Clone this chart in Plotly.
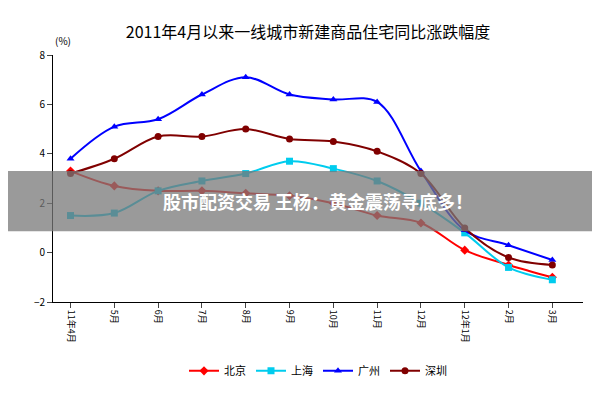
import plotly.graph_objects as go

months = ["11年4月","5月","6月","7月","8月","9月","10月","11月","12月","12年1月","2月","3月"]
beijing = [3.3, 2.7, 2.5, 2.5, 2.4, 2.3, 2.0, 1.5, 1.2, 0.1, -0.5, -1.0]
shanghai = [1.5, 1.6, 2.5, 2.9, 3.2, 3.7, 3.4, 2.9, 2.0, 0.8, -0.6, -1.1]
guangzhou = [3.8, 5.1, 5.4, 6.4, 7.1, 6.4, 6.2, 6.1, 3.3, 0.9, 0.3, -0.3]
shenzhen = [3.2, 3.8, 4.7, 4.7, 5.0, 4.6, 4.5, 4.1, 3.2, 1.0, -0.2, -0.5]

series = [("北京", beijing, "#ff0000", "diamond"),
          ("上海", shanghai, "#00ccee", "square"),
          ("广州", guangzhou, "#0000ff", "triangle-up"),
          ("深圳", shenzhen, "#800000", "circle")]

fig = go.Figure()
for name, vals, col, sym in series:
    fig.add_trace(go.Scatter(x=months, y=vals, name=name, mode="lines+markers",
                             line=dict(color=col, width=2, shape="spline"),
                             marker=dict(symbol=sym, size=7, color=col)))

fig.update_layout(
    width=600, height=400, paper_bgcolor="white", plot_bgcolor="white",
    margin=dict(l=45, r=25, t=47, b=106, autoexpand=False),
    font=dict(family="Noto Sans CJK SC", size=11, color="black"),
    title=dict(text="2011年4月以来一线城市新建商品住宅同比涨跌幅度", x=0.5, y=0.94,
               xanchor="center", yanchor="middle", font=dict(size=16)),
    xaxis=dict(tickangle=90, showline=True, linecolor="black", ticks="outside",
               showgrid=False, tickfont=dict(size=9), range=[-0.4, 11.7]),
    yaxis=dict(range=[-2, 8], dtick=2, showline=True, linecolor="black", ticks="outside",
               showgrid=False, zeroline=False, tickfont=dict(size=10)),
    legend=dict(orientation="h", x=0.5, xanchor="center", y=-0.22, yanchor="top",
                font=dict(size=11)),
    annotations=[
        dict(text="(%)", xref="paper", yref="paper", x=0, y=1.02, xanchor="left",
             yanchor="bottom", showarrow=False, font=dict(size=10)),
        dict(text="<b>股市配资交易 王杨：黄金震荡寻底多！</b>", xref="paper", yref="paper",
             x=0.5, y=0.41, showarrow=False, font=dict(size=18, color="white"),
             xanchor="center"),
    ],
    shapes=[dict(type="rect", xref="paper", yref="paper", x0=-0.09, x1=1.05,
                 y0=0.286, y1=0.53, fillcolor="rgba(120,120,120,0.75)", line=dict(width=0),
                 layer="above")],
)
fig.write_html("out.html")
